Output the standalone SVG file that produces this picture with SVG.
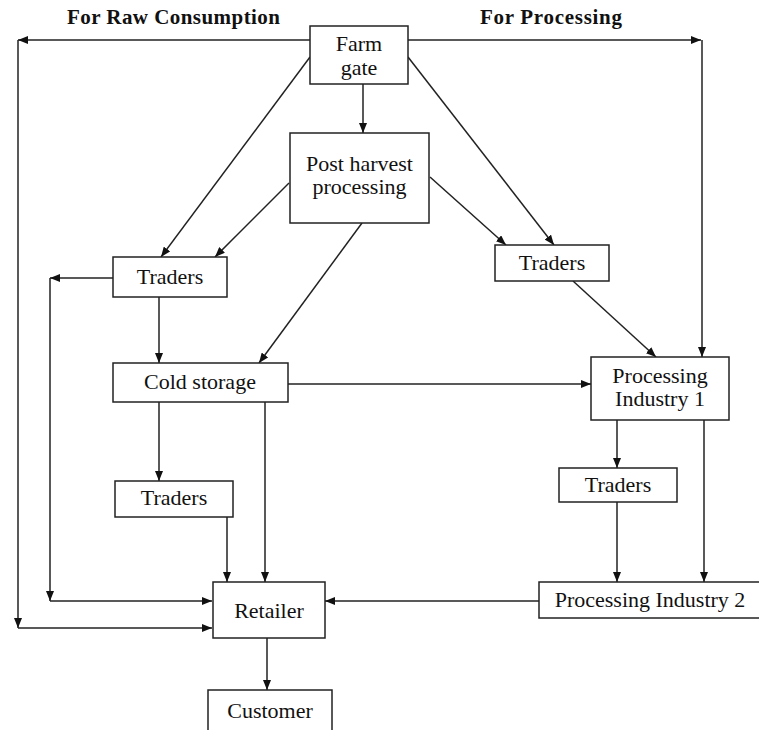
<svg xmlns="http://www.w3.org/2000/svg" width="759" height="730" viewBox="0 0 759 730">
<style>
.box{fill:#fff;stroke:#222;stroke-width:1.5}
.t{font-family:"Liberation Serif",serif;font-size:22px;fill:#111;text-anchor:middle}
.h{font-family:"Liberation Serif",serif;font-size:21px;font-weight:bold;fill:#111}
.c{fill:none;stroke:#222;stroke-width:1.5}
</style>
<defs>
<marker id="a" viewBox="0 0 10 8" refX="10" refY="4" markerWidth="10" markerHeight="8" markerUnits="userSpaceOnUse" orient="auto">
<path d="M0,0 L10,4 L0,8 Z" fill="#111"/>
</marker>
</defs>
<rect width="759" height="730" fill="#fff"/>
<text class="h" x="67" y="24" textLength="213">For Raw Consumption</text>
<text class="h" x="480" y="24" textLength="142">For Processing</text>
<g id="connectors">
<path class="c" d="M310,40 H18" marker-end="url(#a)"/>
<path class="c" d="M408,40 H701" marker-end="url(#a)"/>
<path class="c" d="M18,40 V628" marker-end="url(#a)"/>
<path class="c" d="M18,628 H212" marker-end="url(#a)"/>
<path class="c" d="M702,40 V357" marker-end="url(#a)"/>
<path class="c" d="M363,84 V133" marker-end="url(#a)"/>
<path class="c" d="M310,57 L161,257" marker-end="url(#a)"/>
<path class="c" d="M408,57 L554,245" marker-end="url(#a)"/>
<path class="c" d="M289,183 L215,257" marker-end="url(#a)"/>
<path class="c" d="M430,177 L506,245" marker-end="url(#a)"/>
<path class="c" d="M362,223 L259,363" marker-end="url(#a)"/>
<path class="c" d="M113,278 H50" marker-end="url(#a)"/>
<path class="c" d="M50,278 V601" marker-end="url(#a)"/>
<path class="c" d="M50,601 H212" marker-end="url(#a)"/>
<path class="c" d="M159,297 V363" marker-end="url(#a)"/>
<path class="c" d="M288,384 H591" marker-end="url(#a)"/>
<path class="c" d="M159,402 V481" marker-end="url(#a)"/>
<path class="c" d="M265,402 V582" marker-end="url(#a)"/>
<path class="c" d="M227,517 V582" marker-end="url(#a)"/>
<path class="c" d="M267,638 V690" marker-end="url(#a)"/>
<path class="c" d="M573,281 L656,357" marker-end="url(#a)"/>
<path class="c" d="M617,420 V468" marker-end="url(#a)"/>
<path class="c" d="M617,502 V582" marker-end="url(#a)"/>
<path class="c" d="M704,420 V582" marker-end="url(#a)"/>
<path class="c" d="M539,601 H325" marker-end="url(#a)"/>
</g>
<g id="farm-gate">
<rect class="box" x="310" y="26" width="98" height="58"/>
<text class="t" x="359" y="51">Farm</text>
<text class="t" x="359" y="75">gate</text>
</g>
<g id="post-harvest">
<rect class="box" x="290" y="133" width="139" height="90"/>
<text class="t" x="359.5" y="171">Post harvest</text>
<text class="t" x="359.5" y="194">processing</text>
</g>
<g id="traders-left">
<rect class="box" x="113" y="257" width="114" height="40"/>
<text class="t" x="170" y="284">Traders</text>
</g>
<g id="traders-right">
<rect class="box" x="495" y="245" width="114" height="36"/>
<text class="t" x="552" y="270">Traders</text>
</g>
<g id="cold-storage">
<rect class="box" x="113" y="363" width="175" height="39"/>
<text class="t" x="200" y="389">Cold storage</text>
</g>
<g id="processing-industry-1">
<rect class="box" x="591" y="357" width="138" height="63"/>
<text class="t" x="660" y="383">Processing</text>
<text class="t" x="660" y="406">Industry 1</text>
</g>
<g id="traders-lower-left">
<rect class="box" x="115" y="481" width="118" height="36"/>
<text class="t" x="174" y="505">Traders</text>
</g>
<g id="traders-lower-right">
<rect class="box" x="559" y="468" width="118" height="34"/>
<text class="t" x="618" y="492">Traders</text>
</g>
<g id="retailer">
<rect class="box" x="213" y="582" width="112" height="56"/>
<text class="t" x="269" y="618">Retailer</text>
</g>
<g id="processing-industry-2">
<rect class="box" x="539" y="582" width="225" height="36"/>
<text class="t" x="650" y="607">Processing Industry 2</text>
</g>
<g id="customer">
<rect class="box" x="208" y="690" width="124" height="45"/>
<text class="t" x="270" y="718">Customer</text>
</g>
</svg>
